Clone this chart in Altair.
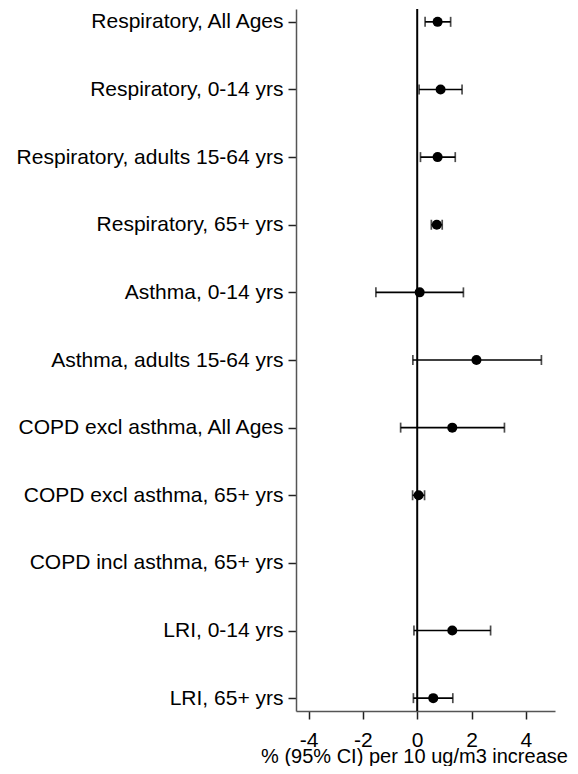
import altair as alt
import pandas as pd

labels = [
    "Respiratory, All Ages",
    "Respiratory, 0-14 yrs",
    "Respiratory, adults 15-64 yrs",
    "Respiratory, 65+ yrs",
    "Asthma, 0-14 yrs",
    "Asthma, adults 15-64 yrs",
    "COPD excl asthma, All Ages",
    "COPD excl asthma, 65+ yrs",
    "COPD incl asthma, 65+ yrs",
    "LRI, 0-14 yrs",
    "LRI, 65+ yrs",
]
est = [0.75, 0.86, 0.75, 0.72, 0.09, 2.18, 1.29, 0.05, None, 1.29, 0.59]
lo = [0.29, 0.07, 0.12, 0.52, -1.52, -0.16, -0.61, -0.17, None, -0.12, -0.14]
hi = [1.23, 1.65, 1.40, 0.92, 1.70, 4.57, 3.21, 0.27, None, 2.70, 1.31]
x_ticks = [-4, -2, 0, 2, 4]
x_domain = [-4.46, 5.07]
x_title = "% (95% CI) per 10 ug/m3 increase"

df = pd.DataFrame({"label": labels, "est": est, "lo": lo, "hi": hi}).dropna()
zero = pd.DataFrame({"x": [0]})

FONT = "Liberation Sans"
FS = 21

xscale = alt.Scale(domain=x_domain, nice=False, zero=False)
yscale = alt.Scale(type="point", domain=labels, padding=0.19)

xaxis = alt.Axis(values=x_ticks, grid=False, title=x_title, titleX=118, titleY=51,
                 titleAlign="center", titleBaseline="alphabetic", titleFontSize=20,
                 tickSize=8, labelPadding=27, labelBaseline="alphabetic",
                 labelExpr="'' + datum.value")
yaxis = alt.Axis(grid=False, title=None, tickSize=8, labelPadding=5,
                 labelLimit=400)

x_enc = alt.X("est:Q", scale=xscale, axis=xaxis)
y_enc = alt.Y("label:N", scale=yscale, axis=yaxis, sort=labels)

zero_line = alt.Chart(zero).mark_rule(color="black", strokeWidth=2).encode(
    x=alt.X("x:Q", scale=xscale, axis=xaxis)
)

ci = alt.Chart(df).mark_rule(color="black", strokeWidth=1.7).encode(
    x=alt.X("lo:Q", scale=xscale, axis=xaxis), x2="hi:Q", y=y_enc
)
cap_lo = alt.Chart(df).mark_tick(color="black", thickness=1.7, size=10).encode(
    x=alt.X("lo:Q", scale=xscale, axis=xaxis), y=y_enc
)
cap_hi = alt.Chart(df).mark_tick(color="black", thickness=1.7, size=10).encode(
    x=alt.X("hi:Q", scale=xscale, axis=xaxis), y=y_enc
)
pts = alt.Chart(df).mark_point(filled=True, color="black", opacity=1, size=100).encode(
    x=x_enc, y=y_enc
)

chart = alt.layer(zero_line, ci, cap_lo, cap_hi, pts).properties(
    width=259, height=702,
    autosize=alt.AutoSizeParams(type="none"),
    padding={"top": 1, "left": 288, "right": 15, "bottom": 55},
).configure_view(stroke=None).configure_axis(
    labelFont=FONT, titleFont=FONT, labelFontSize=FS, titleFontSize=FS,
    labelColor="black", titleColor="black", titleFontWeight="normal",
    domainColor="#555555", domainWidth=1.5, tickColor="#222222", tickWidth=1.5,
)

chart.save("out.html", embed_options={"renderer": "svg", "actions": False})
